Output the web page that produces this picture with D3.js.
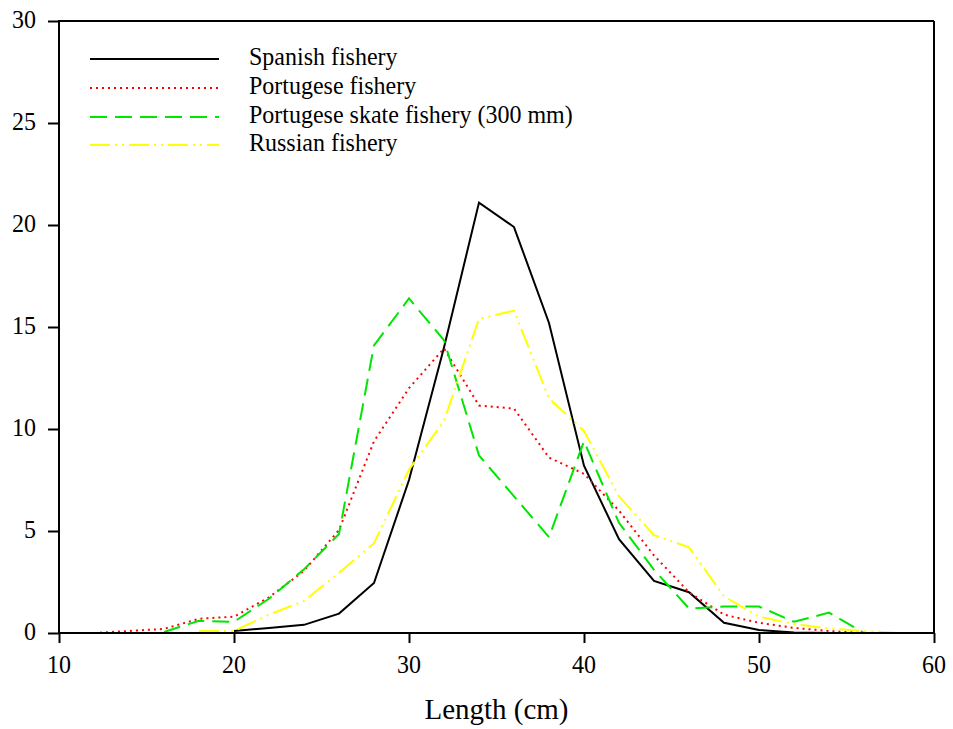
<!DOCTYPE html>
<html><head><meta charset="utf-8">
<script src="https://cdn.jsdelivr.net/npm/d3@7/dist/d3.min.js"></script>
<style>
html,body{margin:0;padding:0;background:#fff;}
text{font-family:"Liberation Serif","Times New Roman",serif;fill:#000;}
</style></head>
<body>
<svg id="chart" width="953" height="729"></svg>
<script>
// ---- data ----
const lengths = [12,14,16,18,20,22,24,26,28,30,32,34,36,38,40,42,44,46,48,50,52,54,56,58,60];
const spanish   = [null,null,null,null,0.1,0.25,0.4,0.95,2.45,7.5,14.0,21.1,19.9,15.2,8.2,4.6,2.55,2.0,0.5,0.15,0.03,0,0,0,0];
const portugese = [0,0.1,0.2,0.7,0.8,1.75,3.05,5.05,9.4,12.0,13.95,11.15,11.0,8.6,7.8,6.0,3.8,2.0,0.9,0.5,0.25,0.1,0,0,0];
const skate     = [null,null,0.05,0.6,0.55,1.68,3.12,4.85,14.1,16.4,14.35,8.7,6.7,4.7,9.4,5.4,3.1,1.2,1.3,1.3,0.55,1.0,0,0,null];
const russian   = [null,null,null,0.1,0.1,0.9,1.57,2.95,4.4,8.0,10.4,15.4,15.8,11.5,9.9,6.7,4.8,4.2,1.8,0.8,0.44,0.22,0.1,0,null];
const seriesNames = ["Spanish fishery","Portugese fishery","Portugese skate fishery (300 mm)","Russian fishery"];
const seriesValues = [spanish, portugese, skate, russian];
const xTicks = [10,20,30,40,50,60];
const yTicks = [0,5,10,15,20,25,30];
const xTitle = "Length (cm)";

// ---- styles ----
const styles = [
  {color:"#000000", dash:null},
  {color:"#ff0000", dash:"2,4"},
  {color:"#00e600", dash:"17,8"},
  {color:"#ffff00", dash:"20,5,2,5,2,5"}
];

const svg = d3.select("#chart");
const L=59, R=934, T=21, B=633;
const x = d3.scaleLinear().domain([10,60]).range([L,R]);
const y = d3.scaleLinear().domain([0,30]).range([B,T]);
const VS = 1.05; // slight vertical stretch of the text

function label(g, px, py, txt, anchor, size){
  g.append("text").attr("transform",`translate(${px},${py}) scale(1,${VS})`)
   .attr("text-anchor",anchor).style("font-size",size+"px").text(txt);
}

// frame
svg.append("line").attr("x1",L).attr("x2",R).attr("y1",T).attr("y2",T).attr("stroke","#000").attr("stroke-width",2);
svg.append("line").attr("x1",R).attr("x2",R).attr("y1",T).attr("y2",B).attr("stroke","#000").attr("stroke-width",2);

// lines
const lineGen = d3.line().defined(d=>d[1]!==null).x(d=>x(d[0])).y(d=>y(d[1]));
seriesValues.forEach((vals,i)=>{
  const pts = lengths.map((l,j)=>[l, vals[j]]);
  svg.append("path").datum(pts).attr("d",lineGen)
    .attr("fill","none").attr("stroke",styles[i].color).attr("stroke-width",2)
    .attr("stroke-dasharray",styles[i].dash).attr("stroke-linejoin","miter");
});

// axes
const gx = svg.append("g").attr("transform",`translate(0,${B})`)
  .call(d3.axisBottom(x).tickValues(xTicks).tickSize(10).tickSizeOuter(0).tickFormat(""));
const gy = svg.append("g").attr("transform",`translate(${L},0)`)
  .call(d3.axisLeft(y).tickValues(yTicks).tickSize(11).tickSizeOuter(0).tickFormat(""));
[gx,gy].forEach(g=>{
  g.selectAll("path.domain").attr("stroke","#000").attr("stroke-width",2);
  g.selectAll(".tick line").attr("stroke","#000").attr("stroke-width",2);
});
gx.select("path.domain").attr("d",`M${L-1},0H${R+1}`);
gy.select("path.domain").attr("d",`M0,${B+1}V${T-1}`);

const labels = svg.append("g");
xTicks.forEach(t=>label(labels, x(t), 673, String(t), "middle", 24));
yTicks.forEach(t=>label(labels, 36, y(t)+7, String(t), "end", 24));
label(labels, (L+R)/2, 719, xTitle, "middle", 29);

// legend
const legY = [59,88,117,145];
seriesNames.forEach((n,i)=>{
  svg.append("line").attr("x1",90).attr("x2",219).attr("y1",legY[i]).attr("y2",legY[i])
    .attr("stroke",styles[i].color).attr("stroke-width",2).attr("stroke-dasharray",styles[i].dash);
  label(svg, 249, legY[i]+6, n, "start", 24);
});
</script>
</body></html>
